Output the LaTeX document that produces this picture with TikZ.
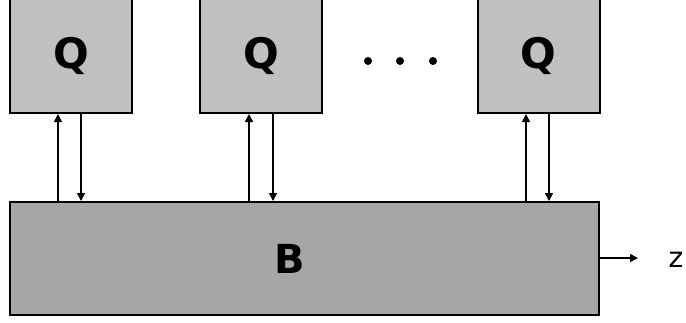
\documentclass[tikz,border=0pt]{standalone}
\usepackage{fontspec}
\setmainfont{DejaVu Sans}
\usetikzlibrary{arrows.meta}
\definecolor{qfill}{RGB}{192,192,192}
\definecolor{bfill}{RGB}{166,166,166}
\begin{document}
\begin{tikzpicture}[x=1pt,y=-1pt,
  qbox/.style={draw=black,line width=2pt,fill=qfill,minimum width=122pt,minimum height=115pt,inner sep=0pt,
    font=\fontsize{42}{50}\selectfont\bfseries},
  bbox/.style={draw=black,line width=2pt,fill=bfill,minimum width=589pt,minimum height=113pt,inner sep=0pt},
  blab/.style={font=\fontsize{40}{48}\selectfont\bfseries,inner sep=0pt},
  arr/.style={line width=1.6pt,-{Triangle[length=8pt,width=8pt]}},
  dotnode/.style={circle,fill=black,inner sep=0pt,minimum size=8pt}]
\useasboundingbox (0,0) rectangle (686,322);
\node[qbox] (q1) at (71,55.5) {Q};
\node[qbox] (q2) at (261,55.5) {Q};
\node[qbox] (q3) at (538.5,55.5) {Q};
\node[bbox] (B) at (304.5,258.5) {};
\node[blab] (bl) at (290,259) {B};
\node[dotnode] (d1) at (368,61) {};
\node[dotnode] (d2) at (400,61) {};
\node[dotnode] (d3) at (433,61) {};
\coordinate (u1) at ([xshift=-13pt]q1.south);
\coordinate (v1) at ([xshift=10pt]q1.south);
\coordinate (u2) at ([xshift=-12pt]q2.south);
\coordinate (v2) at ([xshift=12pt]q2.south);
\coordinate (u3) at ([xshift=-12.5pt]q3.south);
\coordinate (v3) at ([xshift=10.5pt]q3.south);
\draw[arr] (u1 |- B.north) -- (u1);
\draw[arr] (v1) -- (v1 |- B.north);
\draw[arr] (u2 |- B.north) -- (u2);
\draw[arr] (v2) -- (v2 |- B.north);
\draw[arr] (u3 |- B.north) -- (u3);
\draw[arr] (v3) -- (v3 |- B.north);
\coordinate (zend) at (638,258);
\draw[arr] (B.east |- zend) -- (zend);
\node[font=\fontsize{28}{32}\selectfont,inner sep=0pt] (z) at (676,260) {z};
\end{tikzpicture}
\end{document}
